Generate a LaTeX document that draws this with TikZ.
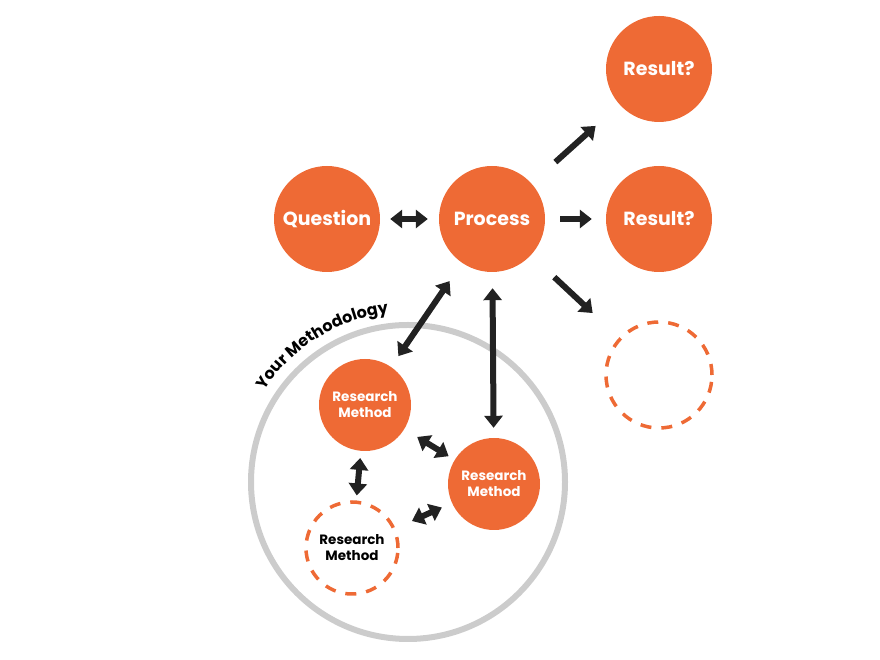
\documentclass[tikz,border=0pt]{standalone}
\usepackage{fontspec}
\setmainfont{Poppins}
\usetikzlibrary{arrows.meta,decorations.text}
\definecolor{org}{HTML}{EE6A35}
\definecolor{ringgray}{HTML}{CCCCCC}
\definecolor{arrowblack}{HTML}{222222}
\tikzset{
  bigc/.style={circle, fill=org, minimum size=106pt, inner sep=0pt, text=white, font=\bfseries\fontsize{19}{22}\selectfont},
  bigdash/.style={circle, draw=org, line width=3.5pt, dash pattern=on 11pt off 10pt, minimum size=106pt, inner sep=0pt},
  smc/.style={circle, fill=org, minimum size=92pt, inner sep=0pt, text=white, align=center, font=\bfseries\fontsize{13.5}{16}\selectfont},
  smdash/.style={circle, draw=org, line width=3.5pt, dash pattern=on 11pt off 10pt, minimum size=92pt, inner sep=0pt, align=center, font=\bfseries\fontsize{13.5}{16}\selectfont},
  arr/.style={draw=arrowblack, line width=6pt, -{Triangle[width=18pt,length=12pt]}},
  darr/.style={draw=arrowblack, line width=6pt, {Triangle[width=18pt,length=12pt]}-{Triangle[width=18pt,length=12pt]}},
}
\begin{document}
\begin{tikzpicture}[x=1pt,y=1pt]
\useasboundingbox (0,0) rectangle (880,660);
% methodology ring
\node[circle, draw=ringgray, line width=6pt, minimum size=314pt, inner sep=0pt] (ring) at (408,178) {};
\path[decorate, decoration={text along path, text align=center,
  text={|\bfseries\fontsize{16}{16}\selectfont|Your Methodology}}]
  (408,178) ++(154:170) arc (154:90:170);
% main nodes
\node[bigc] (Q) at (327,441) {Question};
\node[bigc] (P) at (492,441) {Process};
\node[bigc] (R1) at (659,591) {Result?};
\node[bigc] (R2) at (659,441) {Result?};
\node[bigdash] (R3) at (659,285) {};
\node[smc] (M1) at (365,255) {Research\\Method};
\node[smc] (M2) at (494,176) {Research\\Method};
\node[smdash] (M3) at (352,112) {Research\\Method};
% arrows
\draw[darr, shorten <=10pt, shorten >=11pt] (Q) -- (P);
\draw[arr, shorten <=32pt, shorten >=32pt] (P) -- (R1);
\draw[arr, shorten <=15pt, shorten >=14pt] (P) -- (R2);
\draw[arr, shorten <=32pt, shorten >=36pt] (P) -- (R3);
\draw[darr, shorten <=22pt, shorten >=13pt] (P) -- (M1);
\draw[darr, shorten <=16pt, shorten >=10pt] (P) -- (M2);
\draw[darr, shorten <=15pt, shorten >=7pt] (M1) -- (M2);
\draw[darr, shorten <=7pt, shorten >=5pt] (M1) -- (M3);
\draw[darr, shorten <=11pt, shorten >=18pt] (M2) -- (M3);
\end{tikzpicture}
\end{document}
